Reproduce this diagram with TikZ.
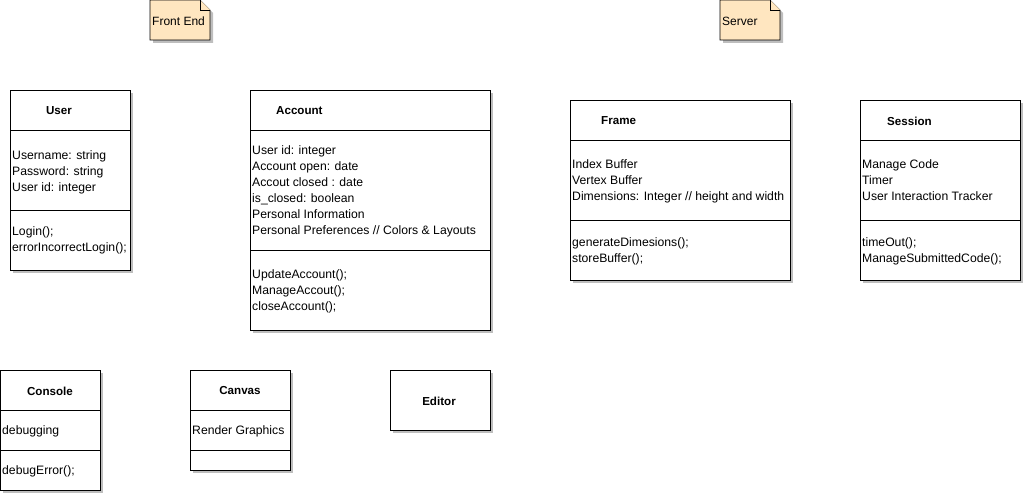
\documentclass[tikz,border=0pt]{standalone}
\usepackage{fontspec}
\setmainfont{Liberation Sans}
\usetikzlibrary{shadows}
\definecolor{notefill}{RGB}{255,230,192}
\definecolor{shadowgray}{RGB}{190,190,190}
\tikzset{
  cls/.style={draw=black, fill=white, line width=0.9pt, inner sep=0pt,
    drop shadow={shadow xshift=3pt, shadow yshift=-3pt, fill=shadowgray, opacity=1}},
  sep/.style={draw=black, line width=0.9pt},
  title/.style={font=\fontsize{11.6}{13}\selectfont\bfseries, inner sep=0pt},
  txt/.style={font=\fontsize{12.2}{16}\selectfont, inner sep=0pt, anchor=base west},
  note/.style={draw=black, fill=notefill, line width=0.6pt},
  notetxt/.style={font=\fontsize{12}{13}\selectfont, inner sep=0pt, anchor=west},
}
\begin{document}
\begin{tikzpicture}[x=1pt,y=-1pt]
\useasboundingbox (0,0) rectangle (1025,495);
% notes
\fill[shadowgray] (153,3) -- (203,3) -- (213,13) -- (213,43) -- (153,43) -- cycle;
\draw[note] (150,0) -- (200,0) -- (210,10) -- (210,40) -- (150,40) -- cycle;
\draw[note] (200,0) -- (200,10) -- (210,10);
\node[notetxt] (fe) at (152,21) {Front End};
\fill[shadowgray] (723,3) -- (773,3) -- (783,13) -- (783,43) -- (723,43) -- cycle;
\draw[note] (720,0) -- (770,0) -- (780,10) -- (780,40) -- (720,40) -- cycle;
\draw[note] (770,0) -- (770,10) -- (780,10);
\node[notetxt] (sv) at (722,21) {Server};

% User
\node[cls, minimum width=120, minimum height=180] (user) at (70,180) {};
\draw[sep] (10,130) -- (130,130);
\draw[sep] (10,210) -- (130,210);
\node[title] (usert) at (59,111) {User};
\foreach \t [count=\i] in {Username: string, Password: string, User id: integer}
  \node[txt] (usera\i) at (12,{159+16*(\i-1)}) {\t};
\foreach \t [count=\i] in {Login();, errorIncorrectLogin();}
  \node[txt] (userm\i) at (12,{235+16*(\i-1)}) {\t};

% Account
\node[cls, minimum width=240, minimum height=240] (acc) at (370,210) {};
\draw[sep] (250,130) -- (490,130);
\draw[sep] (250,250) -- (490,250);
\node[title, anchor=west] (acct) at (276,111) {Account};
\foreach \t [count=\i] in {User id: integer, Account open: date, Accout closed : date, is\_closed: boolean, Personal Information, Personal Preferences // Colors \& Layouts}
  \node[txt] (acca\i) at (252,{154+16*(\i-1)}) {\t};
\foreach \t [count=\i] in {UpdateAccount();, ManageAccout();, closeAccount();}
  \node[txt] (accm\i) at (252,{278+16*(\i-1)}) {\t};

% Frame
\node[cls, minimum width=220, minimum height=180] (frame) at (680,190) {};
\draw[sep] (570,140) -- (790,140);
\draw[sep] (570,220) -- (790,220);
\node[title, anchor=west] (framet) at (601,121) {Frame};
\foreach \t [count=\i] in {Index Buffer, Vertex Buffer, Dimensions: Integer // height and width}
  \node[txt] (framea\i) at (572,{168+16*(\i-1)}) {\t};
\foreach \t [count=\i] in {generateDimesions();, storeBuffer();}
  \node[txt] (framem\i) at (572,{246+16*(\i-1)}) {\t};

% Session
\node[cls, minimum width=160, minimum height=180] (sess) at (940,190) {};
\draw[sep] (860,140) -- (1020,140);
\draw[sep] (860,220) -- (1020,220);
\node[title, anchor=west] (sesst) at (887,121) {Session};
\foreach \t [count=\i] in {Manage Code, Timer, User Interaction Tracker}
  \node[txt] (sessa\i) at (862,{168+16*(\i-1)}) {\t};
\foreach \t [count=\i] in {timeOut();, ManageSubmittedCode();}
  \node[txt] (sessm\i) at (862,{246+16*(\i-1)}) {\t};

% Console
\node[cls, minimum width=100, minimum height=120] (cons) at (50,430) {};
\draw[sep] (0,410) -- (100,410);
\draw[sep] (0,450) -- (100,450);
\node[title] (const) at (50,391) {Console};
\node[txt] (consa) at (2,434) {debugging};
\node[txt] (consm) at (2,474) {debugError();};

% Canvas
\node[cls, minimum width=100, minimum height=100] (canv) at (240,420) {};
\draw[sep] (190,410) -- (290,410);
\draw[sep] (190,450) -- (290,450);
\node[title] (canvt) at (240,391) {Canvas};
\node[txt] (canva) at (192,434) {Render Graphics};

% Editor
\node[cls, minimum width=100, minimum height=60] (edit) at (440,400) {};
\node[title] (editt) at (439,401) {Editor};
\end{tikzpicture}
\end{document}
